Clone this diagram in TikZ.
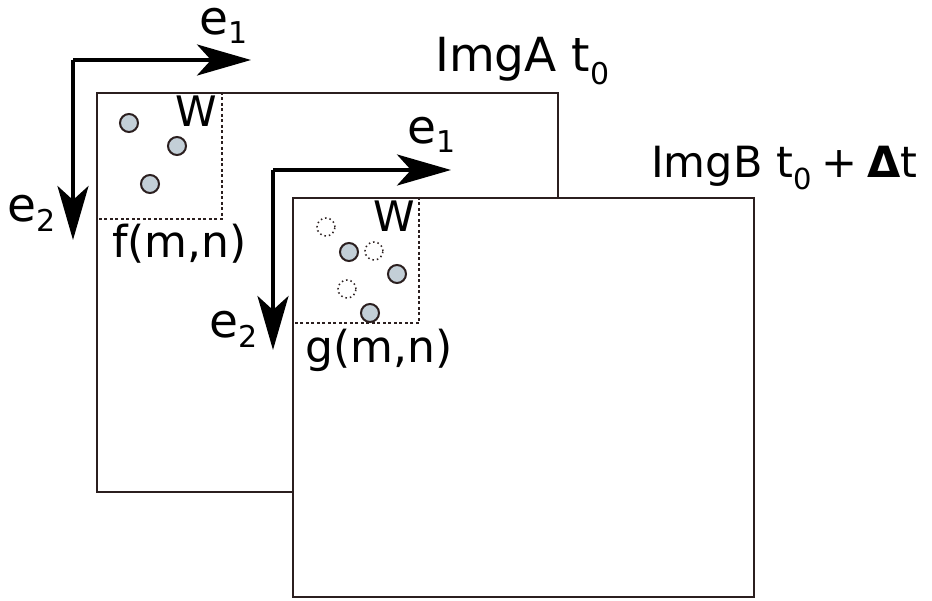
\documentclass[tikz,border=0pt]{standalone}
\usepackage{fontspec}
\setmainfont{DejaVu Sans}
\usetikzlibrary{arrows.meta}
\definecolor{frame}{HTML}{2B1F1F}
\definecolor{dotfill}{HTML}{C3CFD7}
\newcommand{\fsz}[1]{\fontsize{#1}{#1}\selectfont}
\newcommand{\lowsub}[3]{\raisebox{-#2pt}{\fsz{#3}#1}}
\tikzset{
  imgframe/.style={draw=frame, line width=2pt, fill=white},
  window/.style={draw=frame, line width=1.6pt, dash pattern=on 3pt off 2.5pt},
  axisarrow/.style={draw=black, line width=3.8pt, -{Stealth[length=54pt, width=31pt, inset=14pt]}},
  dotsolid/.style={circle, draw=frame, line width=2pt, fill=dotfill, minimum size=18pt, inner sep=0pt},
  dotghost/.style={circle, draw=frame, line width=1.5pt, dash pattern=on 1.5pt off 3pt, minimum size=18pt, inner sep=0pt},
  lbl/.style={anchor=base west, inner sep=0pt, text=black}
}
\begin{document}
\begin{tikzpicture}[x=1pt, y=-1pt]
\useasboundingbox (0,0) rectangle (932,601);
% Image A
\node[imgframe, minimum width=461pt, minimum height=399pt, anchor=north west, inner sep=0pt] (imgA) at (96,92) {};
\coordinate (wA) at (222,219);
\draw[window] (imgA.north west -| wA) -- (wA) -- (imgA.west |- wA);
\node[dotsolid] (a1) at (129,123) {};
\node[dotsolid] (a2) at (177,146) {};
\node[dotsolid] (a3) at (150,184) {};
\node[lbl, font=\fsz{42}] (WA) at (175,127) {W};
\node[lbl, font=\fsz{44}] (fA) at (112,258) {f(m,n)};
\node[lbl, font=\fsz{47}] (labA) at (435,72) {ImgA t\lowsub{0}{13}{30}};
% axes 1
\coordinate (o1) at (73,60);
\coordinate (x1) at (251,60);
\coordinate (y1) at (73,240);
\draw[axisarrow] (o1) -- (x1);
\draw[axisarrow] (o1) -- (y1);
\node[lbl, font=\fsz{47}] (e1a) at (199,35) {e\lowsub{1}{9}{30}};
\node[lbl, font=\fsz{47}] (e2a) at (7,222) {e\lowsub{2}{10}{30}};
% axes 2
\coordinate (o2) at (273,170);
\coordinate (x2) at (451,170);
\coordinate (y2) at (273,350);
\draw[axisarrow] (o2) -- (x2);
\draw[axisarrow] (o2) -- (y2);
\node[lbl, font=\fsz{47}] (e1b) at (407,144) {e\lowsub{1}{9}{30}};
\node[lbl, font=\fsz{47}] (e2b) at (209,338) {e\lowsub{2}{10}{30}};
% Image B
\node[imgframe, minimum width=461pt, minimum height=399pt, anchor=north west, inner sep=0pt] (imgB) at (292,197) {};
\coordinate (wB) at (419,323);
\draw[window] (imgB.north west -| wB) -- (wB) -- (imgB.west |- wB);
\node[dotghost] (g1) at (326,227) {};
\node[dotghost] (g2) at (374,251) {};
\node[dotghost] (g3) at (347,289) {};
\node[dotsolid] (b1) at (349,252) {};
\node[dotsolid] (b2) at (397,274) {};
\node[dotsolid] (b3) at (370,313) {};
\node[lbl, font=\fsz{42}] (WB) at (373,232) {W};
\node[lbl, font=\fsz{44}] (gB) at (305,363) {g(m,n)};
\node[lbl, font=\fsz{43}] (labB) at (651,178) {ImgB t\lowsub{0}{12}{29}\hspace{10pt}+\hspace{10pt}{\bfseries Δ}t};
\end{tikzpicture}
\end{document}
